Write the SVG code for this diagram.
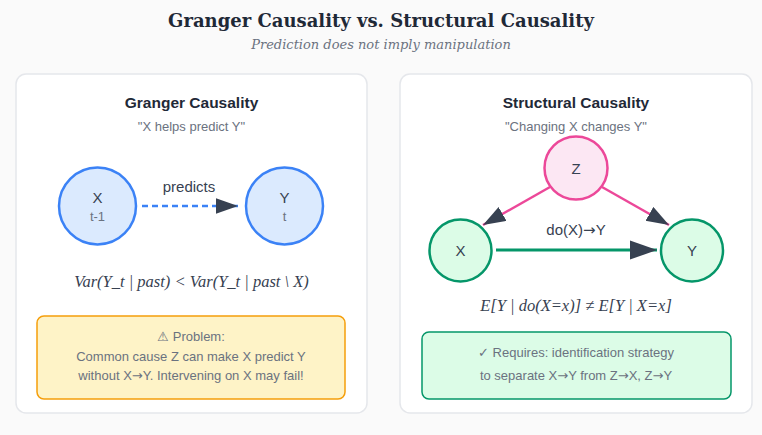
<svg xmlns="http://www.w3.org/2000/svg" width="762" height="435" viewBox="0 0 762 435">
<defs>
<marker id="ah" markerWidth="10" markerHeight="7" refX="9" refY="3.2" orient="auto" markerUnits="strokeWidth">
<path d="M0,0 L9,3.2 L0,6.4 Z" fill="#374151"/>
</marker>
<style>
.panel{fill:#ffffff;stroke:#e5e7eb;stroke-width:1.5}
.ptitle{font-family:"Liberation Sans",Arial,sans-serif;font-size:15.5px;font-weight:bold;fill:#1f2937;text-anchor:middle}
.psub{font-family:"Liberation Sans",Arial,sans-serif;font-size:13px;fill:#6b7280;text-anchor:middle}
.lbl{font-family:"Liberation Sans",Arial,sans-serif;font-size:15px;fill:#374151;text-anchor:middle}
.sm{font-family:"Liberation Sans",Arial,sans-serif;font-size:13px;fill:#6b7280;text-anchor:middle}
.math{font-family:"Liberation Serif","Times New Roman",serif;font-style:italic;font-size:16.5px;fill:#374151;text-anchor:middle}
.box{font-family:"Liberation Sans",Arial,sans-serif;font-size:13px;fill:#6b7280;text-anchor:middle}
.ar{font-family:"DejaVu Sans",sans-serif}
</style>
</defs>
<rect width="762" height="435" fill="#fafafa"/>
<text x="381" y="27" text-anchor="middle" font-family="'DejaVu Serif','Liberation Serif',serif" font-weight="bold" font-size="18" fill="#1f2937">Granger Causality vs. Structural Causality</text>
<text x="381" y="49" text-anchor="middle" font-family="'DejaVu Serif','Liberation Serif',serif" font-style="italic" font-size="13" fill="#6b7280">Prediction does not imply manipulation</text>

<g id="panel-left">
<rect class="panel" x="16" y="74" width="351" height="339" rx="10"/>
<text class="ptitle" x="191.5" y="108">Granger Causality</text>
<text class="psub" x="191.5" y="131">"X helps predict Y"</text>
</g>
<g id="panel-right">
<rect class="panel" x="400" y="74" width="352" height="339" rx="10"/>
<text class="ptitle" x="576" y="108">Structural Causality</text>
<text class="psub" x="576" y="131">"Changing X changes Y"</text>
</g>

<g id="connectors">
<line x1="142" y1="206" x2="238" y2="206" stroke="#3b82f6" stroke-width="2.5" stroke-dasharray="6,4" marker-end="url(#ah)"/>
<text class="lbl" x="189" y="192">predicts</text>
<line x1="550" y1="187" x2="483" y2="225" stroke="#ec4899" stroke-width="2.5" marker-end="url(#ah)"/>
<line x1="602" y1="187" x2="669" y2="225" stroke="#ec4899" stroke-width="2.5" marker-end="url(#ah)"/>
<line x1="496" y1="250" x2="657" y2="250" stroke="#059669" stroke-width="3" marker-end="url(#ah)"/>
<text class="lbl" x="576" y="235">do(X)<tspan class="ar">→</tspan>Y</text>
</g>

<g id="node-x-granger">
<circle cx="97.5" cy="206" r="38.5" fill="#dbeafe" stroke="#3b82f6" stroke-width="2.5"/>
<text class="lbl" x="97.5" y="203">X</text>
<text class="sm" x="97.5" y="221">t-1</text>
</g>
<g id="node-y-granger">
<circle cx="284.5" cy="206" r="38.5" fill="#dbeafe" stroke="#3b82f6" stroke-width="2.5"/>
<text class="lbl" x="284.5" y="203">Y</text>
<text class="sm" x="284.5" y="221">t</text>
</g>
<text class="math" x="191.5" y="287">Var(Y_t | past) &lt; Var(Y_t | past \ X)</text>

<g id="problem-box">
<rect x="37" y="316" width="308" height="83" rx="7" fill="#fef3c7" stroke="#f59e0b" stroke-width="1.5"/>
<text class="box" x="191" y="341">⚠ Problem:</text>
<text class="box" x="191" y="361">Common cause Z can make X predict Y</text>
<text class="box" x="191" y="380">without X<tspan class="ar">→</tspan>Y. Intervening on X may fail!</text>
</g>

<g id="node-z">
<circle cx="576" cy="168" r="31.5" fill="#fce7f3" stroke="#ec4899" stroke-width="2.5"/>
<text class="lbl" x="576" y="174">Z</text>
</g>
<g id="node-x">
<circle cx="460.5" cy="250.5" r="31" fill="#dcfce7" stroke="#059669" stroke-width="2.5"/>
<text class="lbl" x="460.5" y="256">X</text>
</g>
<g id="node-y">
<circle cx="692" cy="250.5" r="31" fill="#dcfce7" stroke="#059669" stroke-width="2.5"/>
<text class="lbl" x="692" y="256">Y</text>
</g>
<text class="math" x="576" y="311">E[Y | do(X=x)] ≠ E[Y | X=x]</text>

<g id="requires-box">
<rect x="422" y="332" width="309" height="67" rx="7" fill="#dcfce7" stroke="#059669" stroke-width="1.5"/>
<text class="box" x="576" y="357">✓ Requires: identification strategy</text>
<text class="box" x="576" y="380">to separate X<tspan class="ar">→</tspan>Y from Z<tspan class="ar">→</tspan>X, Z<tspan class="ar">→</tspan>Y</text>
</g>
</svg>
